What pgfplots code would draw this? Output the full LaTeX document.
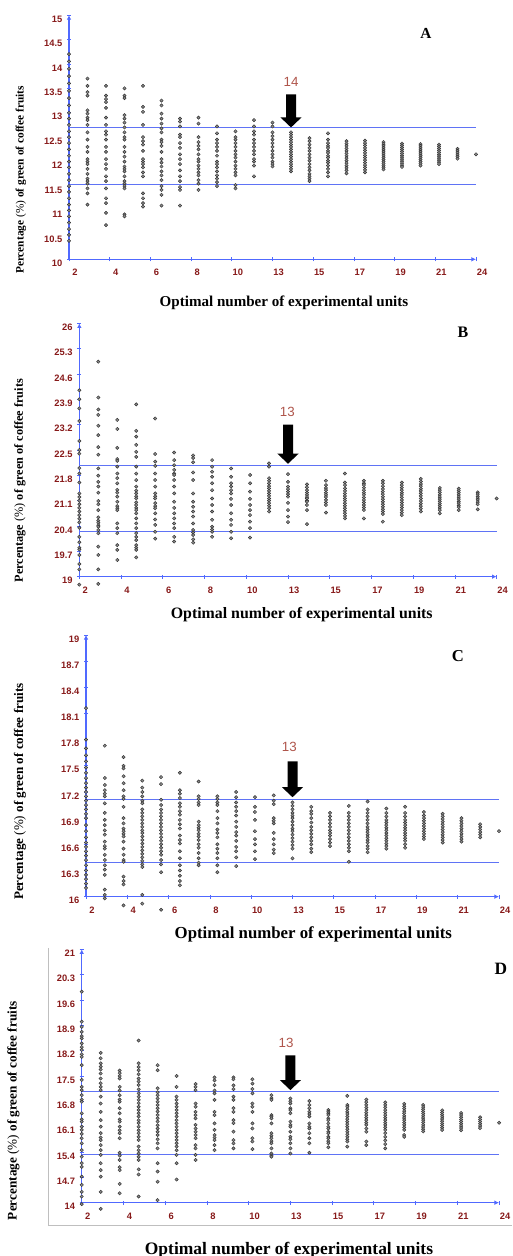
\documentclass[border=0pt]{standalone}
\usepackage{pgfplots}
\pgfplotsset{compat=1.18}
\usepackage{fontspec}
\setmainfont{Liberation Serif}
\setsansfont{Liberation Sans}
\usetikzlibrary{arrows.meta}
\definecolor{axblue}{RGB}{80,105,255}
\definecolor{hblue}{RGB}{95,115,245}
\definecolor{tickred}{RGB}{135,25,25}
\definecolor{numred}{RGB}{175,85,75}
\newcommand\bigarrow[3]{\fill[black] (axis cs:#1,#2) -- ++(-7.9pt,7.5pt) -- ++(4.15pt,0pt) -- ++(0pt,#3) -- ++(7.5pt,0pt) -- ++(0pt,-#3) -- ++(4.15pt,0pt) -- cycle;}
\pgfplotsset{
 panel/.style={
  scale only axis, clip=false, anchor=south west,
  axis x line=bottom, axis y line=left,
  axis line style={draw=axblue, line width=0.8pt, -{Latex[length=3.5pt,width=3.5pt]}},
  xmin=2, xmax=24,
  xtick={2,4.2,6.4,8.6,10.8,13,15.2,17.4,19.6,21.8,24},
  xticklabels={2,4,6,8,10,13,15,17,19,21,24},
  tick style={draw=axblue, line width=0.6pt},
  major tick length=3pt, tick align=center,
  ticklabel style={font=\fontsize{7}{8}\selectfont\bfseries\sffamily, text=tickred},
  xticklabel style={xshift=4.5pt, yshift=-2.5pt},
  yticklabel style={yshift=-3pt},
 },
 pts/.style={only marks, mark=*, mark size=1.25pt, mark options={draw=black!80, fill=black!45, line width=0.35pt}},
 hl/.style={draw=hblue, line width=0.8pt, mark=none, forget plot},
}
\begin{document}
\begin{tikzpicture}
\useasboundingbox (0,0) rectangle (384pt,942pt);
% ---------------- A ----------------
\begin{axis}[panel, at={(51.75pt,747.5pt)}, width=305.25pt, height=183.2pt,
  ymin=10, ymax=15, ytick={10,10.5,11,11.5,12,12.5,13,13.5,14,14.5,15},
  yticklabels={10,10.5,11,11.5,12,12.5,13,13.5,14,14.5,15}]
\addplot[hl] coordinates {(2,12.69)(24,12.69)};
\addplot[hl] coordinates {(2,11.53)(24,11.53)};
\addplot[pts] coordinates {
(2,14.2)(2,14.05)(2,13.9)(2,13.75)(2,13.6)(2,13.45)(2,13.3)(2,13.15)(2,13.0)(2,12.88)(2,12.75)(2,12.62)(2,12.5)(2,12.38)(2,12.25)(2,12.12)(2,12.0)(2,11.88)(2,11.75)(2,11.62)(2,11.5)(2,11.38)(2,11.25)(2,11.12)(2,11.0)(2,10.88)(2,10.75)(2,10.62)(2,10.5)(2,10.38)
(3,13.7)(3,13.55)(3,13.42)(3,13.35)(3,13.05)(3,12.98)(3,12.9)(3,12.85)(3,12.75)(3,12.6)(3,12.45)(3,12.3)(3,12.2)(3,12.05)(3,12.0)(3,11.95)(3,11.85)(3,11.75)(3,11.65)(3,11.6)(3,11.55)(3,11.45)(3,11.35)(3,11.12)
(4,13.55)(4,13.35)(4,13.28)(4,13.22)(4,13.1)(4,12.9)(4,12.75)(4,12.62)(4,12.55)(4,12.45)(4,12.3)(4,12.2)(4,12.05)(4,11.95)(4,11.85)(4,11.7)(4,11.6)(4,11.45)(4,11.25)(4,11.15)(4,10.95)(4,10.7)
(5,13.5)(5,13.35)(5,13.3)(5,12.95)(5,12.88)(5,12.8)(5,12.7)(5,12.6)(5,12.5)(5,12.45)(5,12.3)(5,12.2)(5,12.1)(5,12.0)(5,11.9)(5,11.85)(5,11.8)(5,11.7)(5,11.6)(5,11.55)(5,11.5)(5,11.45)(5,10.92)(5,10.88)
(6,13.55)(6,13.12)(6,13.02)(6,12.75)(6,12.5)(6,12.42)(6,12.35)(6,12.22)(6,12.05)(6,12.0)(6,11.95)(6,11.88)(6,11.78)(6,11.7)(6,11.35)(6,11.25)(6,11.15)(6,11.08)
(7,13.25)(7,13.15)(7,12.98)(7,12.88)(7,12.78)(7,12.68)(7,12.6)(7,12.45)(7,12.4)(7,12.32)(7,12.2)(7,12.05)(7,11.98)(7,11.9)(7,11.8)(7,11.72)(7,11.62)(7,11.5)(7,11.42)(7,11.32)(7,11.1)
(8,12.88)(8,12.82)(8,12.72)(8,12.55)(8,12.5)(8,12.38)(8,12.28)(8,12.15)(8,12.05)(8,11.95)(8,11.82)(8,11.7)(8,11.6)(8,11.48)(8,11.42)(8,11.1)
(9,12.9)(9,12.78)(9,12.5)(9,12.4)(9,12.32)(9,12.25)(9,12.15)(9,12.05)(9,12.0)(9,11.92)(9,11.85)(9,11.78)(9,11.72)(9,11.62)(9,11.55)(9,11.42)
(10,12.72)(10,12.58)(10,12.45)(10,12.38)(10,12.3)(10,12.22)(10,12.12)(10,12.0)(10,11.95)(10,11.88)(10,11.8)(10,11.72)(10,11.65)(10,11.58)(10,11.5)
(11,12.62)(11,12.5)(11,12.45)(11,12.38)(11,12.3)(11,12.22)(11,12.15)(11,12.08)(11,12.0)(11,11.92)(11,11.85)(11,11.78)(11,11.72)(11,11.52)(11,11.45)
(12,12.85)(12,12.72)(12,12.62)(12,12.55)(12,12.45)(12,12.38)(12,12.3)(12,12.22)(12,12.15)(12,12.05)(12,12.0)(12,11.92)(12,11.7)
(13,12.8)(13,12.72)(13,12.6)(13,12.52)(13,12.45)(13,12.38)(13,12.3)(13,12.22)(13,12.15)(13,12.08)(13,12.0)(13,11.95)(13,11.9)
(14,12.6)(14,12.55)(14,12.5)(14,12.45)(14,12.4)(14,12.35)(14,12.3)(14,12.25)(14,12.2)(14,12.15)(14,12.1)(14,12.05)(14,12.0)(14,11.95)(14,11.9)(14,11.85)(14,11.8)
(15,12.48)(15,12.42)(15,12.35)(15,12.28)(15,12.22)(15,12.15)(15,12.08)(15,12.02)(15,11.95)(15,11.88)(15,11.82)(15,11.75)(15,11.7)(15,11.65)(15,11.6)
(16,12.58)(16,12.45)(16,12.38)(16,12.32)(16,12.28)(16,12.22)(16,12.18)(16,12.12)(16,12.08)(16,12.02)(16,11.98)(16,11.92)(16,11.85)(16,11.78)(16,11.7)
(17,12.42)(17,12.37)(17,12.32)(17,12.27)(17,12.22)(17,12.17)(17,12.12)(17,12.07)(17,12.02)(17,11.97)(17,11.92)(17,11.87)(17,11.82)(17,11.76)
(18,12.43)(18,12.38)(18,12.33)(18,12.28)(18,12.23)(18,12.18)(18,12.13)(18,12.08)(18,12.03)(18,11.98)(18,11.93)(18,11.88)(18,11.83)(18,11.78)
(19,12.4)(19,12.36)(19,12.32)(19,12.28)(19,12.24)(19,12.2)(19,12.16)(19,12.12)(19,12.08)(19,12.04)(19,12.0)(19,11.96)(19,11.92)(19,11.88)(19,11.84)
(20,12.37)(20,12.33)(20,12.29)(20,12.25)(20,12.21)(20,12.17)(20,12.13)(20,12.09)(20,12.05)(20,12.01)(20,11.97)(20,11.93)(20,11.89)
(21,12.36)(21,12.32)(21,12.28)(21,12.24)(21,12.2)(21,12.16)(21,12.12)(21,12.08)(21,12.04)(21,12.0)(21,11.96)(21,11.92)
(22,12.35)(22,12.31)(22,12.27)(22,12.23)(22,12.19)(22,12.15)(22,12.11)(22,12.07)(22,12.03)(22,11.99)(22,11.95)
(23,12.26)(23,12.22)(23,12.18)(23,12.14)(23,12.1)(23,12.06)
(24,12.15)
};
\bigarrow{14}{12.70}{17.25pt}
\end{axis}
% ---------------- B ----------------
\begin{axis}[panel, at={(59.5pt,509.5pt)}, width=313pt, height=190pt,
  ymin=19, ymax=26, ytick={19,19.7,20.4,21.1,21.8,22.5,23.2,23.9,24.6,25.3,26},
  yticklabels={19,19.7,20.4,21.1,21.8,22.5,23.2,23.9,24.6,25.3,26}]
\addplot[hl] coordinates {(2,22.07)(24,22.07)};
\addplot[hl] coordinates {(2,20.26)(24,20.26)};
\addplot[pts] coordinates {
(2,24.15)(2,23.9)(2,23.65)(2,23.3)(2,22.75)(2,22.5)(2,22.4)(2,22.0)(2,21.85)(2,21.6)(2,21.3)(2,21.2)(2,21.1)(2,21.0)(2,20.9)(2,20.8)(2,20.7)(2,20.6)(2,20.5)(2,20.35)(2,20.1)(2,19.95)(2,19.8)(2,19.75)(2,19.6)(2,19.35)(2,19.2)(2,18.78)
(3,24.94)(3,23.95)(3,23.62)(3,23.47)(3,23.17)(3,22.91)(3,22.58)(3,22.37)(3,21.99)(3,21.79)(3,21.62)(3,21.49)(3,21.32)(3,21.09)(3,21.0)(3,20.84)(3,20.64)(3,20.55)(3,20.49)(3,20.42)(3,20.38)(3,20.29)(3,20.2)(3,19.83)(3,19.6)(3,19.2)(3,18.8)
(4,23.33)(4,23.08)(4,22.56)(4,22.25)(4,22.2)(4,22.04)(4,21.85)(4,21.72)(4,21.58)(4,21.4)(4,21.32)(4,21.21)(4,21.07)(4,20.95)(4,20.89)(4,20.84)(4,20.47)(4,20.34)(4,20.2)(4,19.87)(4,19.74)(4,19.46)
(5,23.76)(5,23.03)(5,22.87)(5,22.64)(5,22.45)(5,22.31)(5,22.04)(5,21.85)(5,21.67)(5,21.49)(5,21.38)(5,21.3)(5,21.22)(5,21.16)(5,21.05)(5,20.98)(5,20.9)(5,20.84)(5,20.75)(5,20.61)(5,20.47)(5,20.34)(5,20.2)(5,20.1)(5,20.01)(5,19.87)(5,19.8)(5,19.74)(5,19.53)
(6,23.37)(6,22.39)(6,22.18)(6,22.06)(6,21.85)(6,21.67)(6,21.49)(6,21.3)(6,21.22)(6,21.16)(6,21.03)(6,20.95)(6,20.89)(6,20.75)(6,20.58)(6,20.43)(6,20.24)(6,20.05)
(7,22.43)(7,22.22)(7,22.08)(7,21.95)(7,21.85)(7,21.81)(7,21.67)(7,21.49)(7,21.3)(7,21.07)(7,20.9)(7,20.75)(7,20.61)(7,20.47)(7,20.34)(7,20.1)(7,19.97)
(8,22.35)(8,22.28)(8,22.16)(8,21.88)(8,21.67)(8,21.3)(8,21.07)(8,20.93)(8,20.8)(8,20.66)(8,20.47)(8,20.29)(8,20.22)(8,20.15)(8,20.03)(8,19.94)
(9,22.22)(9,22.04)(9,21.9)(9,21.76)(9,21.58)(9,21.39)(9,21.16)(9,20.98)(9,20.8)(9,20.57)(9,20.38)(9,20.3)(9,20.24)(9,20.1)
(10,21.99)(10,21.76)(10,21.58)(10,21.49)(10,21.39)(10,21.3)(10,21.15)(10,20.98)(10,20.75)(10,20.57)(10,20.43)(10,20.24)(10,20.06)
(11,21.81)(11,21.58)(11,21.35)(11,21.15)(11,20.98)(11,20.84)(11,20.7)(11,20.52)(11,20.34)(11,20.08)
(12,22.13)(12,22.04)(12,21.72)(12,21.65)(12,21.58)(12,21.5)(12,21.44)(12,21.37)(12,21.3)(12,21.23)(12,21.16)(12,21.1)(12,21.03)(12,20.96)(12,20.89)(12,20.8)
(13,21.83)(13,21.62)(13,21.49)(13,21.42)(13,21.35)(13,21.28)(13,21.21)(13,21.04)(13,20.84)(13,20.66)(13,20.51)
(14,21.55)(14,21.47)(14,21.39)(14,21.32)(14,21.26)(14,21.2)(14,21.16)(14,21.1)(14,21.07)(14,20.98)(14,20.84)(14,20.45)
(15,21.65)(15,21.53)(15,21.45)(15,21.39)(15,21.32)(15,21.26)(15,21.2)(15,21.12)(15,21.05)(15,20.98)(15,20.77)
(16,21.85)(16,21.6)(16,21.53)(16,21.44)(16,21.37)(16,21.3)(16,21.23)(16,21.16)(16,21.1)(16,21.03)(16,20.96)(16,20.89)(16,20.82)(16,20.75)(16,20.68)(16,20.61)
(17,21.65)(17,21.58)(17,21.53)(17,21.46)(17,21.39)(17,21.32)(17,21.26)(17,21.19)(17,21.12)(17,21.05)(17,20.98)(17,20.91)(17,20.84)(17,20.61)
(18,21.65)(18,21.58)(18,21.5)(18,21.42)(18,21.35)(18,21.28)(18,21.21)(18,21.14)(18,21.07)(18,21.0)(18,20.93)(18,20.86)(18,20.8)(18,20.73)(18,20.52)
(19,21.6)(19,21.53)(19,21.46)(19,21.39)(19,21.32)(19,21.26)(19,21.19)(19,21.12)(19,21.05)(19,20.98)(19,20.91)(19,20.84)(19,20.77)(19,20.7)
(20,21.7)(20,21.63)(20,21.56)(20,21.5)(20,21.43)(20,21.37)(20,21.3)(20,21.23)(20,21.16)(20,21.09)(20,21.02)(20,20.95)(20,20.88)(20,20.8)
(21,21.45)(21,21.39)(21,21.33)(21,21.26)(21,21.2)(21,21.14)(21,21.08)(21,21.02)(21,20.96)(21,20.9)(21,20.84)(21,20.75)
(22,21.43)(22,21.38)(22,21.32)(22,21.26)(22,21.2)(22,21.14)(22,21.08)(22,21.03)(22,20.97)(22,20.92)(22,20.84)
(23,21.33)(23,21.28)(23,21.22)(23,21.17)(23,21.12)(23,21.06)(23,21.0)(23,20.86)
(24,21.16)
};
\bigarrow{13}{22.12}{21.75pt}
\end{axis}
% ---------------- C ----------------
\begin{axis}[panel, at={(64.5pt,269.5pt)}, width=309.75pt, height=196.3pt,
  ymin=16, ymax=19, ytick={16,16.3,16.6,16.9,17.2,17.5,17.8,18.1,18.4,18.7,19},
  yticklabels={16,16.3,16.6,16.9,17.2,17.5,17.8,18.1,18.4,18.7,19}]
\addplot[hl] coordinates {(2,17.11)(24,17.11)};
\addplot[hl] coordinates {(2,16.39)(24,16.39)};
\addplot[pts] coordinates {
(2,18.16)(2,17.8)(2,17.7)(2,17.62)(2,17.55)(2,17.48)(2,17.42)(2,17.36)(2,17.3)(2,17.25)(2,17.2)(2,17.15)(2,17.1)(2,17.05)(2,17.0)(2,16.95)(2,16.9)(2,16.82)(2,16.75)(2,16.68)(2,16.62)(2,16.57)(2,16.52)(2,16.47)(2,16.42)(2,16.36)(2,16.3)(2,16.25)(2,16.2)(2,16.15)(2,16.1)
(3,17.73)(3,17.36)(3,17.28)(3,17.22)(3,17.18)(3,17.15)(3,17.07)(3,16.96)(3,16.88)(3,16.82)(3,16.76)(3,16.71)(3,16.63)(3,16.58)(3,16.55)(3,16.48)(3,16.42)(3,16.36)(3,16.31)(3,16.25)(3,16.08)(3,16.02)(3,15.98)
(4,17.6)(4,17.5)(4,17.47)(4,17.38)(4,17.3)(4,17.22)(4,17.15)(4,17.12)(4,17.03)(4,16.9)(4,16.84)(4,16.78)(4,16.75)(4,16.72)(4,16.69)(4,16.63)(4,16.55)(4,16.48)(4,16.42)(4,16.4)(4,16.23)(4,16.18)(4,16.14)(4,15.9)
(5,17.33)(5,17.25)(5,17.2)(5,17.15)(5,17.1)(5,17.07)(5,17.0)(5,16.96)(5,16.92)(5,16.88)(5,16.84)(5,16.8)(5,16.76)(5,16.73)(5,16.69)(5,16.65)(5,16.61)(5,16.57)(5,16.53)(5,16.49)(5,16.45)(5,16.41)(5,16.37)(5,16.34)(5,16.02)(5,15.92)
(6,17.37)(6,17.29)(6,17.11)(6,17.05)(6,17.0)(6,16.96)(6,16.92)(6,16.88)(6,16.84)(6,16.8)(6,16.76)(6,16.72)(6,16.68)(6,16.64)(6,16.6)(6,16.56)(6,16.52)(6,16.48)(6,16.42)(6,16.37)(6,16.28)(6,15.85)
(7,17.42)(7,17.22)(7,17.18)(7,17.13)(7,17.07)(7,17.03)(7,16.98)(7,16.94)(7,16.88)(7,16.83)(7,16.78)(7,16.7)(7,16.65)(7,16.61)(7,16.52)(7,16.44)(7,16.36)(7,16.3)(7,16.24)(7,16.18)(7,16.13)
(8,17.32)(8,17.15)(8,17.12)(8,17.08)(8,17.05)(8,16.86)(8,16.82)(8,16.79)(8,16.76)(8,16.72)(8,16.69)(8,16.65)(8,16.6)(8,16.56)(8,16.5)(8,16.44)(8,16.39)(8,16.36)
(9,17.15)(9,17.12)(9,17.08)(9,17.05)(9,16.98)(9,16.9)(9,16.84)(9,16.77)(9,16.73)(9,16.68)(9,16.6)(9,16.55)(9,16.5)(9,16.44)(9,16.36)(9,16.28)
(10,17.2)(10,17.14)(10,17.08)(10,17.03)(10,16.98)(10,16.93)(10,16.86)(10,16.8)(10,16.74)(10,16.7)(10,16.64)(10,16.57)(10,16.52)(10,16.45)(10,16.35)
(11,17.14)(11,17.03)(11,16.97)(11,16.88)(11,16.75)(11,16.66)(11,16.6)(11,16.52)(11,16.43)
(12,17.16)(12,17.1)(12,17.06)(12,16.9)(12,16.87)(12,16.84)(12,16.73)(12,16.66)(12,16.6)(12,16.54)(12,16.5)
(13,17.08)(13,17.04)(13,17.0)(13,16.96)(13,16.93)(13,16.9)(13,16.86)(13,16.82)(13,16.78)(13,16.75)(13,16.71)(13,16.67)(13,16.63)(13,16.59)(13,16.55)(13,16.44)
(14,17.03)(14,16.98)(14,16.95)(14,16.9)(14,16.85)(14,16.8)(14,16.76)(14,16.72)(14,16.68)(14,16.64)(14,16.6)(14,16.55)(14,16.51)
(15,16.96)(15,16.92)(15,16.88)(15,16.84)(15,16.8)(15,16.76)(15,16.73)(15,16.7)(15,16.66)(15,16.62)(15,16.58)
(16,17.04)(16,16.96)(16,16.92)(16,16.88)(16,16.84)(16,16.8)(16,16.76)(16,16.72)(16,16.68)(16,16.64)(16,16.6)(16,16.56)(16,16.52)(16,16.4)
(17,17.09)(17,17.0)(17,16.96)(17,16.92)(17,16.88)(17,16.84)(17,16.8)(17,16.77)(17,16.74)(17,16.71)(17,16.68)(17,16.65)(17,16.62)(17,16.58)(17,16.55)(17,16.51)
(18,17.01)(18,16.96)(18,16.92)(18,16.88)(18,16.85)(18,16.82)(18,16.79)(18,16.76)(18,16.73)(18,16.7)(18,16.67)(18,16.64)(18,16.61)(18,16.58)(18,16.55)
(19,17.03)(19,16.96)(19,16.92)(19,16.88)(19,16.85)(19,16.82)(19,16.79)(19,16.76)(19,16.73)(19,16.7)(19,16.67)(19,16.64)(19,16.6)(19,16.56)
(20,16.97)(20,16.93)(20,16.9)(20,16.87)(20,16.84)(20,16.81)(20,16.78)(20,16.75)(20,16.72)(20,16.69)(20,16.66)
(21,16.95)(21,16.92)(21,16.89)(21,16.86)(21,16.83)(21,16.8)(21,16.77)(21,16.74)(21,16.71)(21,16.68)(21,16.65)(21,16.62)
(22,16.9)(22,16.87)(22,16.84)(22,16.81)(22,16.78)(22,16.75)(22,16.72)(22,16.69)(22,16.66)(22,16.63)
(23,16.83)(23,16.8)(23,16.77)(23,16.74)(23,16.71)(23,16.68)
(24,16.75)
};
\bigarrow{13}{17.14}{19.3pt}
\end{axis}
% ---------------- D ----------------
\draw[black!25, line width=0.6pt] (36pt,231pt) -- (36pt,23.25pt) -- (384pt,23.25pt);
\begin{axis}[panel, at={(61.3pt,40pt)}, width=313pt, height=190pt,
  ymin=14, ymax=21, ytick={14,14.7,15.4,16.1,16.8,17.5,18.2,18.9,19.6,20.3,21},
  yticklabels={14,14.7,15.4,16.1,16.8,17.5,18.2,18.9,19.6,20.3,21}]
\addplot[hl] coordinates {(2,17.08)(24,17.08)};
\addplot[hl] coordinates {(2,15.32)(24,15.32)};
\addplot[pts] coordinates {
(2,19.83)(2,19.0)(2,18.86)(2,18.72)(2,18.6)(2,18.54)(2,18.4)(2,18.3)(2,18.22)(2,18.1)(2,18.03)(2,17.8)(2,17.39)(2,17.2)(2,17.11)(2,16.97)(2,16.85)(2,16.79)(2,16.47)(2,16.3)(2,16.24)(2,16.1)(2,16.01)(2,15.9)(2,15.78)(2,15.64)(2,15.45)(2,15.27)(2,15.09)(2,14.99)(2,14.72)(2,14.49)(2,14.3)(2,14.17)(2,13.96)
(3,18.14)(3,17.99)(3,17.85)(3,17.76)(3,17.68)(3,17.57)(3,17.43)(3,17.3)(3,17.2)(3,17.11)(3,16.93)(3,16.74)(3,16.51)(3,16.28)(3,16.1)(3,15.92)(3,15.8)(3,15.73)(3,15.59)(3,15.45)(3,15.32)(3,15.09)(3,14.9)(3,14.72)(3,14.3)(3,13.83)
(4,17.65)(4,17.58)(4,17.5)(4,17.43)(4,17.2)(4,17.1)(4,16.97)(4,16.85)(4,16.79)(4,16.61)(4,16.47)(4,16.3)(4,16.24)(4,16.1)(4,16.0)(4,15.92)(4,15.78)(4,15.38)(4,15.3)(4,15.18)(4,14.98)(4,14.9)(4,14.52)(4,14.26)
(5,18.48)(5,17.85)(5,17.75)(5,17.66)(5,17.55)(5,17.43)(5,17.35)(5,17.25)(5,17.13)(5,17.02)(5,16.93)(5,16.84)(5,16.75)(5,16.65)(5,16.56)(5,16.47)(5,16.38)(5,16.28)(5,16.2)(5,16.1)(5,16.0)(5,15.92)(5,15.82)(5,15.73)(5,15.55)(5,15.45)(5,15.36)(5,15.27)(5,15.18)(5,14.92)(5,14.78)(5,14.17)
(6,17.8)(6,17.66)(6,17.16)(6,17.05)(6,16.97)(6,16.88)(6,16.79)(6,16.7)(6,16.61)(6,16.52)(6,16.42)(6,16.33)(6,16.24)(6,16.14)(6,16.05)(6,15.96)(6,15.87)(6,15.75)(6,15.64)(6,15.5)(6,15.09)(6,14.86)(6,14.58)(6,14.07)
(7,17.5)(7,17.2)(7,16.93)(7,16.84)(7,16.74)(7,16.65)(7,16.56)(7,16.47)(7,16.38)(7,16.28)(7,16.19)(7,16.1)(7,16.01)(7,15.92)(7,15.82)(7,15.73)(7,15.64)(7,15.55)(7,15.45)(7,15.32)(7,15.09)(7,14.64)
(8,17.28)(8,17.2)(8,17.11)(8,16.74)(8,16.65)(8,16.51)(8,16.42)(8,16.33)(8,16.15)(8,16.05)(8,15.96)(8,15.87)(8,15.78)(8,15.59)(8,15.5)(8,15.32)(8,15.18)
(9,17.46)(9,17.38)(9,17.25)(9,17.1)(9,17.02)(9,16.84)(9,16.51)(9,16.42)(9,16.19)(9,16.01)(9,15.87)(9,15.8)(9,15.73)(9,15.59)(9,15.45)
(10,17.46)(10,17.41)(10,17.24)(10,17.14)(10,16.93)(10,16.84)(10,16.61)(10,16.51)(10,16.28)(10,16.2)(10,15.96)(10,15.73)(10,15.64)(10,15.5)
(11,17.41)(11,17.29)(11,17.14)(11,17.02)(11,16.74)(11,16.65)(11,16.51)(11,16.19)(11,16.05)(11,15.78)(11,15.69)(11,15.48)
(12,16.97)(12,16.89)(12,16.84)(12,16.42)(12,16.38)(12,16.33)(12,16.19)(12,15.92)(12,15.85)(12,15.78)(12,15.7)(12,15.64)(12,15.5)(12,15.36)(12,15.3)(12,15.27)
(13,16.88)(13,16.8)(13,16.74)(13,16.61)(13,16.56)(13,16.47)(13,16.24)(13,16.15)(13,16.1)(13,15.96)(13,15.82)(13,15.75)(13,15.64)(13,15.5)(13,15.36)
(14,16.81)(14,16.7)(14,16.61)(14,16.51)(14,16.45)(14,16.38)(14,16.19)(14,16.1)(14,16.05)(14,15.92)(14,15.78)(14,15.64)(14,15.38)
(15,16.56)(15,16.51)(15,16.47)(15,16.42)(15,16.33)(15,16.28)(15,16.19)(15,16.1)(15,16.05)(15,15.96)(15,15.92)(15,15.82)(15,15.78)(15,15.7)(15,15.64)(15,15.53)
(16,16.95)(16,16.7)(16,16.65)(16,16.58)(16,16.51)(16,16.45)(16,16.38)(16,16.31)(16,16.24)(16,16.17)(16,16.1)(16,16.03)(16,15.96)(16,15.89)(16,15.82)(16,15.75)(16,15.69)(16,15.55)
(17,16.85)(17,16.78)(17,16.7)(17,16.63)(17,16.56)(17,16.49)(17,16.42)(17,16.35)(17,16.28)(17,16.21)(17,16.15)(17,16.05)(17,15.96)(17,15.69)(17,15.59)
(18,16.77)(18,16.7)(18,16.63)(18,16.56)(18,16.49)(18,16.42)(18,16.35)(18,16.28)(18,16.21)(18,16.15)(18,16.08)(18,16.01)(18,15.92)(18,15.82)(18,15.72)(18,15.62)(18,15.5)
(19,16.73)(19,16.66)(19,16.6)(19,16.53)(19,16.47)(19,16.4)(19,16.34)(19,16.28)(19,16.21)(19,16.15)(19,16.08)(19,16.01)(19,15.87)(19,15.82)
(20,16.7)(20,16.64)(20,16.58)(20,16.52)(20,16.46)(20,16.4)(20,16.34)(20,16.28)(20,16.22)(20,16.15)(20,16.09)(20,16.03)(20,15.97)
(21,16.55)(21,16.49)(21,16.43)(21,16.37)(21,16.31)(21,16.25)(21,16.19)(21,16.13)(21,16.07)(21,16.01)
(22,16.48)(22,16.42)(22,16.36)(22,16.3)(22,16.24)(22,16.18)(22,16.12)(22,16.06)(22,16.0)
(23,16.36)(23,16.3)(23,16.24)(23,16.18)(23,16.12)(23,16.06)
(24,16.21)
};
\bigarrow{13}{17.11}{18.5pt}
\end{axis}
% ---------------- texts ----------------
\node[font=\fontsize{11.3}{13}\selectfont\bfseries] at (213pt,714.75pt) {Optimal number of experimental units};
\node[font=\fontsize{11.9}{13}\selectfont\bfseries] at (226.3pt,480.75pt) {Optimal number of experimental units};
\node[font=\fontsize{12.6}{14}\selectfont\bfseries] at (235pt,241.5pt) {Optimal number of experimental units};
\node[font=\fontsize{13.1}{14}\selectfont\bfseries] at (216.75pt,4.5pt) {Optimal number of experimental units};
\node[rotate=90, font=\fontsize{8.5}{10}\selectfont] at (15.75pt,807pt) {\textbf{Percentage} (\%) \textbf{of green of coffee fruits}};
\node[rotate=90, font=\fontsize{9.2}{10}\selectfont] at (15pt,581.5pt) {\textbf{Percentage} (\%) \textbf{of green of coffee fruits}};
\node[rotate=90, font=\fontsize{9.8}{11}\selectfont] at (15pt,348.2pt) {\textbf{Percentage} (\%) \textbf{of green of coffee fruits}};
\node[rotate=90, font=\fontsize{9.9}{11}\selectfont] at (10pt,109pt) {\textbf{Percentage} (\%) \textbf{of green of coffee fruits}};
\node[font=\fontsize{11.5}{13}\selectfont\bfseries] at (319.5pt,917.25pt) {A};
\node[font=\fontsize{12}{13}\selectfont\bfseries] at (347.25pt,693pt) {B};
\node[font=\fontsize{12.5}{14}\selectfont\bfseries] at (343.5pt,450pt) {C};
\node[font=\fontsize{13}{14}\selectfont\bfseries] at (375.75pt,215.25pt) {D};
\node[font=\fontsize{10}{11}\selectfont\sffamily, text=numred] at (218.25pt,880.7pt) {14};
\node[font=\fontsize{10}{11}\selectfont\sffamily, text=numred] at (215.5pt,633pt) {13};
\node[font=\fontsize{10}{11}\selectfont\sffamily, text=numred] at (217pt,382pt) {13};
\node[font=\fontsize{10}{11}\selectfont\sffamily, text=numred] at (214.5pt,159.5pt) {13};
\end{tikzpicture}
\end{document}
